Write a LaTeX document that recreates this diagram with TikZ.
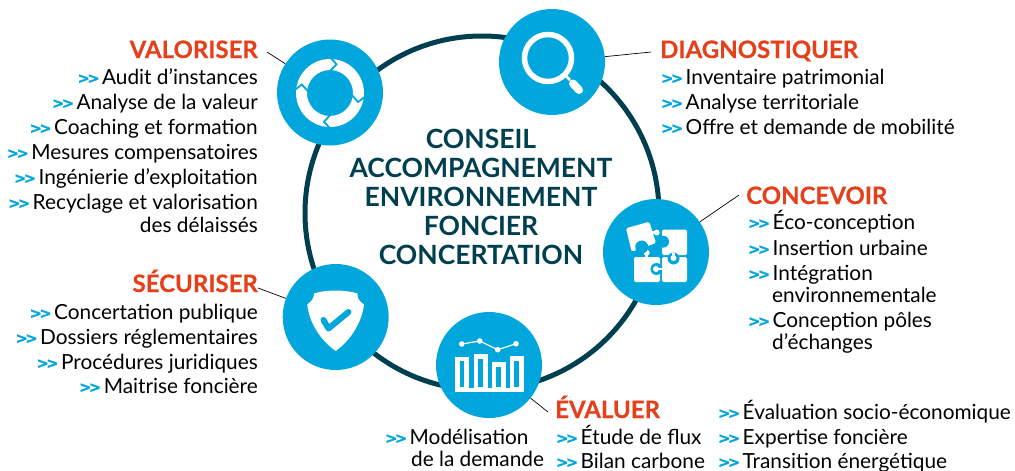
\documentclass[tikz,border=0pt]{standalone}
\usepackage{fontspec}
\setmainfont{Lato}
\newfontfamily\bulfont[FakeBold=1.5]{DejaVu Sans}
\definecolor{cy}{HTML}{00A6DC}
\definecolor{dk}{HTML}{003F50}
\definecolor{rd}{HTML}{E4401C}
\newcommand{\bul}{\makebox[24.5pt][l]{\textcolor{cy}{\bulfont\bfseries\fontsize{14.5}{14.5}\selectfont\raisebox{0.8pt}{>\kern-2.4pt>}}}}
\tikzset{
 x=1pt,y=-1pt,
 ttl/.style={font=\fontsize{24}{24}\selectfont\bfseries\addfontfeature{FakeBold=0.4},text=rd,inner sep=0pt},
 itm/.style={font=\fontsize{20.8}{20.8}\selectfont,text=black,inner sep=0pt},
 ctr/.style={font=\fontsize{26.5}{26.5}\selectfont\bfseries,text=dk,inner sep=0pt,anchor=base},
 disc/.style={circle,fill=cy,minimum size=106pt,inner sep=0pt},
 leader/.style={draw=black,line width=0.7pt},
 ico/.style={fill=white,draw=none},
}
\begin{document}
\begin{tikzpicture}
\useasboundingbox (0,0) rectangle (1015,471);
\node[circle,draw=dk,line width=5pt,minimum size=354pt,inner sep=0pt] (ring) at (482,213) {};
% discs
\node[disc] (dv) at (330,92.5) {};
\node[disc] (dd) at (552,62) {};
\node[disc] (dc) at (656,252) {};
\node[disc] (ds) at (335.7,317) {};
\node[disc] (de) at (489,365) {};
% leaders
\coordinate (lv) at (267,52); \coordinate (ld) at (651,52);
\coordinate (lc) at (739,195); \coordinate (ls) at (258,288); \coordinate (le) at (548,412);
\draw[leader] (lv) -- (dv);
\draw[leader] (ld) -- (dd);
\draw[leader] (lc) -- (dc);
\draw[leader] (ls) -- (ds);
\draw[leader] (le) -- (de);
% cycle icon
\begin{scope}[shift={(330,93)}]
\fill[white,even odd rule] (0,0) circle[radius=34] (0,0) circle[radius=23];
\foreach \a in {87,-8,-92,173}{
 \begin{scope}[rotate=\a]
 \draw[cy,line width=1.8pt] (22,-1) -- (29,5) -- (35,-1);
 \end{scope}
}
\end{scope}
% magnifier icon
\draw[white,line width=5.5pt] (548,58) circle[radius=23.5];
\draw[white,line width=2.5pt] (566,76) -- (570,80);
\draw[white,line width=8pt,line cap=round] (573,83.5) -- (579,90);
% puzzle icon
\fill[ico,rounded corners=2pt] (662,229.5) -- (687,229.5) -- (687,255) -- (662,255) -- cycle;
\fill[cy] (663,241.7) circle[radius=6];
\fill[ico,rounded corners=2pt] (634,257) -- (660,257) -- (660,282) -- (634,282) -- cycle;
\fill[ico] (646.7,252.7) circle[radius=3];
\fill[ico] (645,254) rectangle (648.4,258);
\fill[ico,rounded corners=2pt] (662,257) -- (687,257) -- (687,282) -- (662,282) -- cycle;
\fill[cy] (656.5,269) circle[radius=6];
\fill[ico] (656,269) circle[radius=3];
\fill[ico] (656,267.6) rectangle (663,270.4);
\fill[cy] (673.5,258.5) circle[radius=6];
\fill[ico] (673.5,258) circle[radius=3];
\fill[ico] (672,253) rectangle (675,258);
\fill[ico,rounded corners=2pt] (626,228.3) -- (649.3,221.7) -- (656,243) -- (631.7,251.7) -- cycle;
\fill[cy] (641.7,247) circle[radius=6.5];
\fill[ico] (656.7,232.5) circle[radius=3];
\fill[ico] (651,231) rectangle (656,234);
% shield icon
\fill[ico] (335.7,290.5) .. controls (328,290.5) and (320,291.5) .. (314,293.5)
 .. controls (314,298) and (312,301) .. (307.3,304.5)
 .. controls (309,322) and (320,340) .. (335.7,351)
 .. controls (351,340) and (362,322) .. (364,304.5)
 .. controls (359,301) and (357,298) .. (357.5,293.5)
 .. controls (351,291.5) and (343,290.5) .. (335.7,290.5) -- cycle;
\draw[cy,line width=6pt,line cap=round,line join=round] (323.5,320) -- (328.5,328.5) -- (348.5,312);
% chart icon
\fill[ico] (455,388) rectangle (523.5,392);
\foreach \xa/\ytop in {455/356.5,473.5/354,491.5/362,509.5/356}{
 \fill[ico] (\xa,\ytop) rectangle (\xa+14,389);
 \fill[cy] (\xa+4.6,\ytop+4.5) rectangle (\xa+9.4,387);
}
\coordinate (p1) at (461.7,344); \coordinate (p2) at (479.7,341);
\coordinate (p3) at (497.7,349.7); \coordinate (p4) at (516,343.7);
\draw[white,line width=1.2pt] (p1) -- (p2) -- (p3) -- (p4);
\foreach \p in {p1,p2,p3,p4}{\fill[ico] (\p) circle[radius=2.8];}
% centre
\node[ctr] (c1) at (481,148) {CONSEIL};
\node[ctr] (c2) at (481,177) {ACCOMPAGNEMENT};
\node[ctr] (c3) at (481,206) {ENVIRONNEMENT};
\node[ctr] (c4) at (481,235) {FONCIER};
\node[ctr] (c5) at (481,264) {CONCERTATION};
% VALORISER
\node[ttl,anchor=base east] (tv) at (258,58) {VALORISER};
\node[itm,anchor=base east] (v1) at (258,84) {\bul Audit d’instances};
\node[itm,anchor=base east] (v2) at (258,109) {\bul Analyse de la valeur};
\node[itm,anchor=base east] (v3) at (258,134) {\bul Coaching et formation};
\node[itm,anchor=base east] (v4) at (258,159) {\bul Mesures compensatoires};
\node[itm,anchor=base east] (v5) at (258,184) {\bul Ingénierie d’exploitation};
\node[itm,anchor=base east] (v6) at (258,209) {\bul Recyclage et valorisation};
\node[itm,anchor=base east] (v7) at (258,232) {des délaissés};
% SECURISER
\node[ttl,anchor=base east] (ts) at (258,292) {SÉCURISER};
\node[itm,anchor=base east] (s1) at (258,319) {\bul Concertation publique};
\node[itm,anchor=base east] (s2) at (258,344) {\bul Dossiers réglementaires};
\node[itm,anchor=base east] (s3) at (258,369) {\bul Procédures juridiques};
\node[itm,anchor=base east] (s4) at (258,393) {\bul Maitrise foncière};
% DIAGNOSTIQUER
\node[ttl,anchor=base west] (td) at (660,58) {DIAGNOSTIQUER};
\node[itm,anchor=base west] (d1) at (661,84) {\bul Inventaire patrimonial};
\node[itm,anchor=base west] (d2) at (661,109) {\bul Analyse territoriale};
\node[itm,anchor=base west] (d3) at (661,134) {\bul Offre et demande de mobilité};
% CONCEVOIR
\node[ttl,anchor=base west] (tc) at (746,204) {CONCEVOIR};
\node[itm,anchor=base west] (c1a) at (748,229) {\bul Éco-conception};
\node[itm,anchor=base west] (c2a) at (748,255) {\bul Insertion urbaine};
\node[itm,anchor=base west] (c3a) at (748,280) {\bul Intégration};
\node[itm,anchor=base west] (c3b) at (772,302) {environnementale};
\node[itm,anchor=base west] (c4a) at (748,327) {\bul Conception pôles};
\node[itm,anchor=base west] (c4b) at (772,349) {d’échanges};
% EVALUER
\node[ttl,anchor=base west] (te) at (555,418) {ÉVALUER};
\node[itm,anchor=base west] (e1) at (385,444) {\bul Modélisation};
\node[itm,anchor=base west] (e1b) at (411,466) {de la demande};
\node[itm,anchor=base west] (e2) at (556,444) {\bul Étude de flux};
\node[itm,anchor=base west] (e3) at (556,468) {\bul Bilan carbone};
\node[itm,anchor=base west] (e4) at (718,419) {\bul Évaluation socio-économique};
\node[itm,anchor=base west] (e5) at (718,444) {\bul Expertise foncière};
\node[itm,anchor=base west] (e6) at (718,468) {\bul Transition énergétique};
\end{tikzpicture}
\end{document}
